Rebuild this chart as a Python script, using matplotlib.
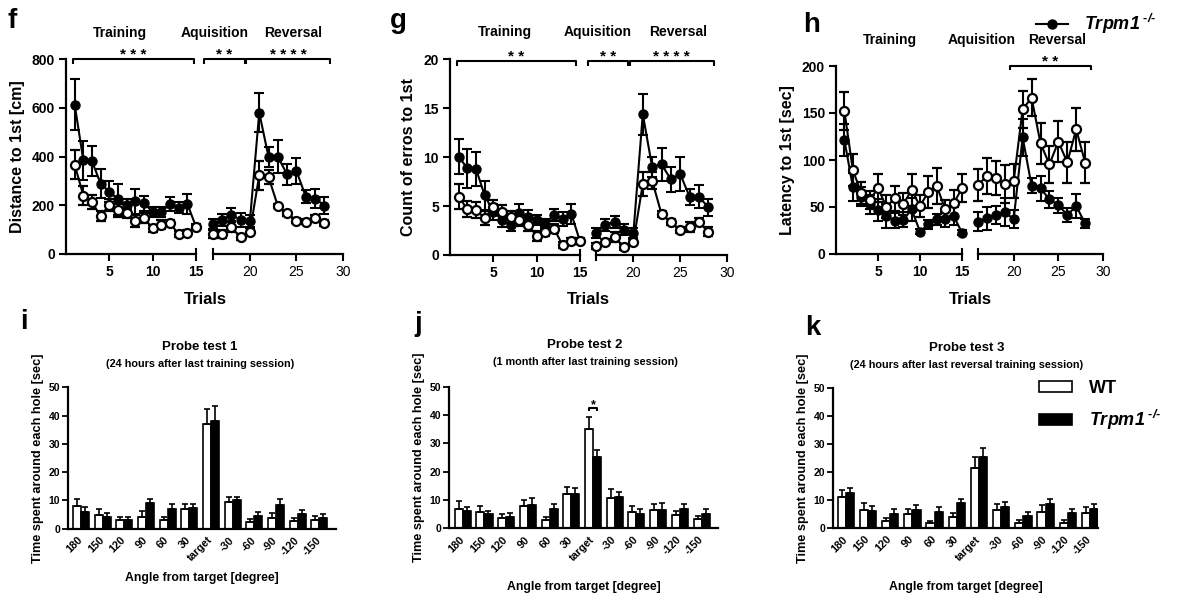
import numpy as np
import matplotlib
matplotlib.use("Agg")
import matplotlib.pyplot as plt

W, H = 1178, 597

TRIALS = list(range(1, 29))
SPLIT = 15  # trials 1-15 training, 16-20 acquisition, 21-28 reversal

# f: distance to 1st hole [cm]
DIST_WT = [367, 240, 213, 155, 203, 179, 169, 137, 148, 106, 121, 126, 82, 85, 110,
           82, 82, 110, 69, 92, 323, 316, 197, 168, 137, 133, 148, 128]
DIST_WT_ERR = [59, 40, 30, 20, 25, 25, 20, 25, 20, 15, 18, 15, 12, 12, 10,
               15, 15, 20, 12, 15, 60, 30, 10, 10, 10, 10, 12, 12]
DIST_KO = [614, 385, 381, 289, 256, 225, 203, 217, 209, 172, 172, 206, 190, 206, 112,
           124, 140, 162, 140, 137, 581, 399, 399, 327, 341, 236, 228, 199]
DIST_KO_ERR = [105, 80, 62, 60, 44, 64, 24, 51, 31, 20, 20, 30, 23, 41, 10,
               20, 25, 27, 30, 25, 80, 40, 68, 44, 53, 28, 38, 35]

# g: count of errors to 1st
ERR_WT = [5.96, 4.67, 4.6, 3.75, 4.94, 4.36, 3.85, 3.6, 3.07, 1.98, 2.4, 2.7, 1.0, 1.43, 1.46,
          0.92, 1.36, 1.8, 0.85, 1.36, 7.26, 7.6, 4.19, 3.34, 2.56, 2.9, 3.34, 2.4]
ERR_WT_ERR = [1.3, 0.8, 0.8, 0.7, 0.7, 0.8, 0.6, 0.6, 0.6, 0.5, 0.5, 0.5, 0.3, 0.3, 0.3,
              0.3, 0.3, 0.5, 0.3, 0.3, 1.2, 0.9, 0.3, 0.3, 0.3, 0.5, 0.4, 0.5]
ERR_KO = [10.05, 8.86, 8.8, 6.1, 4.4, 3.6, 3.1, 4.3, 3.9, 3.6, 3.2, 4.1, 3.7, 4.2, 1.4,
          2.28, 3.07, 3.4, 2.6, 2.28, 14.4, 9.0, 9.27, 7.73, 8.28, 5.96, 5.96, 4.87]
ERR_KO_ERR = [1.8, 2.0, 1.7, 1.5, 0.8, 0.7, 0.6, 0.9, 0.7, 0.5, 0.5, 0.6, 0.7, 1.0, 0.3,
              0.5, 0.6, 0.6, 0.6, 0.5, 2.1, 1.0, 1.7, 1.3, 1.7, 0.8, 1.2, 0.9]

# h: latency to 1st [sec]
LAT_WT = [152, 89.4, 65, 57.4, 69.9, 50.4, 59.2, 53, 68, 51, 66.3, 72.3, 47.5, 53.9, 69.9,
          73.4, 83, 80.5, 74.5, 77.7, 153.9, 166.3, 117.7, 95.4, 119.5, 97.5, 132.6, 97.2]
LAT_WT_ERR = [20, 17, 12, 10, 15, 12, 13, 12, 17, 12, 17, 19, 10, 14, 15,
              17, 19, 18, 20, 18, 20, 20, 22, 20, 22, 22, 23, 22]
LAT_KO = [121.3, 71.6, 61, 53, 46.8, 40.4, 35.5, 36.2, 47.5, 23.8, 31.6, 36.9, 36.9, 40.4, 22.7,
          34.4, 37.9, 41.5, 44.3, 37.2, 124.1, 72.7, 69.9, 58.2, 52.1, 41.5, 51, 32.6]
LAT_KO_ERR = [17, 15, 10, 10, 12, 13, 8, 8, 12, 3, 5, 6, 8, 10, 3,
              10, 12, 10, 15, 10, 20, 8, 13, 9, 8, 7, 13, 5]

ANGLES = ["180", "150", "120", "90", "60", "30", "target", "-30", "-60", "-90", "-120", "-150"]

P1_WT = [8.1, 4.8, 3.1, 4.2, 3.2, 6.8, 37.0, 9.4, 2.5, 3.7, 2.8, 3.1]
P1_WT_ERR = [2.4, 2.0, 1.0, 2.2, 1.0, 1.9, 5.2, 1.9, 1.0, 2.0, 1.1, 1.4]
P1_KO = [5.9, 4.2, 3.2, 9.0, 6.8, 7.2, 38.0, 10.1, 4.5, 8.5, 5.1, 3.7]
P1_KO_ERR = [1.6, 1.2, 0.9, 1.5, 1.8, 1.5, 5.5, 1.2, 1.3, 1.9, 1.5, 1.4]

P2_WT = [6.9, 5.6, 3.5, 7.9, 2.9, 12.0, 34.9, 10.8, 5.6, 6.5, 4.7, 3.2]
P2_WT_ERR = [2.7, 2.4, 1.4, 2.1, 1.0, 2.5, 4.5, 3.2, 2.4, 2.1, 1.4, 1.2]
P2_KO = [6.0, 4.9, 4.1, 8.4, 6.9, 12.0, 25.1, 11.2, 5.2, 6.5, 6.8, 5.1]
P2_KO_ERR = [1.4, 1.3, 1.2, 2.3, 1.7, 2.1, 2.5, 1.7, 1.5, 2.4, 1.8, 1.6]

P3_WT = [11.2, 6.4, 2.4, 4.9, 1.7, 4.1, 21.6, 6.3, 1.9, 5.7, 1.7, 5.3]
P3_WT_ERR = [2.4, 2.4, 1.1, 1.8, 0.9, 1.4, 3.7, 2.3, 1.0, 2.4, 1.0, 2.3]
P3_KO = [12.4, 6.2, 5.1, 6.4, 5.8, 9.1, 25.3, 7.4, 4.3, 8.6, 5.3, 6.8]
P3_KO_ERR = [2.0, 1.7, 1.6, 1.7, 1.6, 1.4, 3.5, 1.8, 1.5, 1.8, 1.4, 1.7]

KO_LABEL = "$\\mathit{Trpm1}^{\\ \u2010/\u2010}$"

plt.rcParams["font.family"] = ["Liberation Sans", "DejaVu Sans"]
plt.rcParams["font.weight"] = "bold"
plt.rcParams["axes.labelweight"] = "bold"
plt.rcParams["axes.linewidth"] = 1.6
plt.rcParams["mathtext.fontset"] = "custom"
plt.rcParams["mathtext.it"] = "Liberation Sans:italic:bold"
plt.rcParams["mathtext.rm"] = "Liberation Sans:italic"
plt.rcParams["mathtext.bf"] = "Liberation Sans:bold"

fig = plt.figure(figsize=(W / 100, H / 100), dpi=100)


def add_axes_px(x0, x1, y0, y1):
    return fig.add_axes([x0 / W, 1 - y1 / H, (x1 - x0) / W, (y1 - y0) / H])


def fig_text(x, y, s, **kw):
    return fig.text(x / W, 1 - y / H, s, **kw)


def bracket(ax, xa, xb, y, drop, label, size=11):
    ax.plot([xa, xa, xb, xb], [y - drop, y, y, y - drop], color="black",
            lw=1.5, clip_on=False, solid_capstyle="butt")
    ax.text((xa + xb) / 2, y, label, ha="center", va="baseline", fontsize=size)


def trial_panel(box, ylim, yticks, ylabel, wt, wt_err, ko, ko_err):
    x0, x1, x2, x3, y0, y1 = box
    ax1 = add_axes_px(x0, x1, y0, y1)
    ax2 = add_axes_px(x2, x3, y0, y1)
    handles = None
    for ax, lo, hi in ((ax1, 0, SPLIT), (ax2, SPLIT, len(TRIALS))):
        t = TRIALS[lo:hi]
        ko_c = ax.errorbar(t, ko[lo:hi], yerr=ko_err[lo:hi], fmt="-o", color="black",
                           mfc="black", mec="black", ms=6.5, lw=1.5, elinewidth=1.5,
                           capsize=3.5, capthick=1.5, zorder=3)
        wt_c = ax.errorbar(t, wt[lo:hi], yerr=wt_err[lo:hi], fmt="-o", color="black",
                           mfc="white", mec="black", mew=1.6, ms=6.5, lw=1.5, elinewidth=1.5,
                           capsize=3.5, capthick=1.5, zorder=4)
        for c in (ko_c, wt_c):
            for a in c.get_children():
                a.set_clip_on(False)
        handles = (wt_c[0], ko_c[0])
        ax.set_ylim(*ylim)
        ax.spines[["top", "right"]].set_visible(False)
        ax.tick_params(width=1.5, length=5, labelsize=10, pad=3)
        ax.set_facecolor("none")
    ax1.set_xlim(0, 15)
    ax1.set_xticks([5, 10, 15])
    ax1.set_yticks(yticks)
    ax1.set_ylabel(ylabel, fontsize=11.5, labelpad=5)
    ax2.set_xlim(16, 30)
    ax2.set_xticks([20, 25, 30])
    for lab in ax2.get_xticklabels():
        lab.set_fontweight("normal")
    ax2.spines["left"].set_visible(False)
    ax2.tick_params(axis="y", left=False, labelleft=False)
    # axis break marks
    ax1.plot([15, 15], [0, 0.028], transform=ax1.get_xaxis_transform(),
             color="black", lw=1.5, clip_on=False)
    ax2.plot([16, 16], [-0.028, 0.028], transform=ax2.get_xaxis_transform(),
             color="black", lw=1.5, clip_on=False)
    return ax1, ax2, handles


def probe_panel(box, xlim, wt, wt_err, ko, ko_err):
    ax = add_axes_px(*box)
    x = np.arange(len(ANGLES))
    w = 0.37
    wt_bars = ax.bar(x - w / 2, wt, w, color="white", edgecolor="black", lw=1.2, zorder=2)
    ko_bars = ax.bar(x + w / 2, ko, w, color="black", edgecolor="black", lw=1.2, zorder=2)
    zeros = np.zeros(len(ANGLES))
    ax.errorbar(x - w / 2, wt, yerr=[zeros, wt_err], fmt="none", ecolor="black",
                elinewidth=1.2, capsize=2.5, capthick=1.2, zorder=3)
    ax.errorbar(x + w / 2, ko, yerr=[zeros, ko_err], fmt="none", ecolor="black",
                elinewidth=1.2, capsize=2.5, capthick=1.2, zorder=3)
    ax.set_xlim(*xlim)
    ax.set_ylim(0, 50)
    ax.set_yticks(range(0, 51, 10))
    ax.set_xticks(x)
    ax.set_xticklabels(ANGLES, rotation=45, ha="right", va="center",
                       rotation_mode="anchor", fontsize=7.8)
    ax.tick_params(axis="x", length=0, pad=7)
    ax.tick_params(axis="y", width=1.3, length=4, labelsize=7.5, pad=2)
    ax.spines[["top", "right"]].set_visible(False)
    ax.set_ylabel("Time spent around each hole [sec]", fontsize=9.2, labelpad=3)
    return ax, wt_bars, ko_bars


# ---- top row: trials ----
f1, f2, _ = trial_panel((66, 196, 212.7, 343, 59.3, 254), (0, 800), range(0, 801, 200),
                        "Distance to 1st [cm]", DIST_WT, DIST_WT_ERR, DIST_KO, DIST_KO_ERR)
bracket(f1, 0.8, 14.8, 800, 18, "* * *")
bracket(f2, 15.1, 19.45, 800, 18, "* *")
bracket(f2, 19.6, 28.6, 800, 18, "* * * *")

g1, g2, _ = trial_panel((450, 580, 596, 727, 59.3, 255), (0, 20), range(0, 21, 5),
                        "Count of erros to 1st", ERR_WT, ERR_WT_ERR, ERR_KO, ERR_KO_ERR)
bracket(g1, 0.77, 14.5, 19.8, 0.45, "* *")
bracket(g2, 15.15, 19.45, 19.8, 0.45, "* *")
bracket(g2, 19.6, 28.6, 19.8, 0.45, "* * * *")

h1, h2, line_handles = trial_panel((836, 962, 978, 1103, 66, 254), (0, 200), range(0, 201, 50),
                                   "Latency to 1st [sec]", LAT_WT, LAT_WT_ERR, LAT_KO, LAT_KO_ERR)
bracket(h2, 19.55, 28.6, 200, 4.5, "* *")

for cx, heads, hy in ((205, (120, 215, 293), 33), (588, (505, 598, 678), 32),
                      (970, (890, 982, 1057), 40)):
    for hx, s in zip(heads, ("Training", "Aquisition", "Reversal")):
        fig_text(hx, hy, s, ha="center", va="center", fontsize=10)
    fig_text(cx, 300, "Trials", ha="center", va="center", fontsize=12)

# WT entry sits partly above the top edge, as in the original figure
fig.legend(handles=list(line_handles), labels=["WT", KO_LABEL], loc="upper left",
           bbox_to_anchor=(1036 / W, 1 + 14 / H), frameon=False, fontsize=13,
           handlelength=1.75, handletextpad=0.9, labelspacing=0.5,
           borderpad=0, borderaxespad=0)

# ---- bottom row: probe tests ----
pi, _, _ = probe_panel((68.3, 336, 387.3, 528.7), (-0.58, 11.77), P1_WT, P1_WT_ERR, P1_KO, P1_KO_ERR)
pj, _, _ = probe_panel((449.3, 718.3, 386.7, 528.3), (-0.62, 11.77), P2_WT, P2_WT_ERR, P2_KO, P2_KO_ERR)
pk, wt_bars, ko_bars = probe_panel((833.3, 1098.3, 388.3, 528), (-0.56, 11.37),
                                   P3_WT, P3_WT_ERR, P3_KO, P3_KO_ERR)
bracket(pj, 6 - 0.185, 6 + 0.185, 42.5, 1.2, "*", size=9)

for ax, xl_y in ((pi, 578), (pj, 587), (pk, 587)):
    bb = ax.get_position()
    fig.text((bb.x0 + bb.x1) / 2, 1 - xl_y / H, "Angle from target [degree]",
             ha="center", va="center", fontsize=8.8)

for cx, t, s, ty in ((200, "Probe test 1", "(24 hours after last training session)", 347),
                     (585, "Probe test 2", "(1 month after last training session)", 345),
                     (967, "Probe test 3", "(24 hours after last reversal training session)", 348)):
    fig_text(cx, ty, t, ha="center", va="center", fontsize=9.5)
    fig_text(cx, ty + 17, s, ha="center", va="center", fontsize=7.8)

pk.legend([wt_bars, ko_bars], ["WT", KO_LABEL], loc="upper left",
          bbox_to_anchor=(1039 / W, 1 - 380 / H), bbox_transform=fig.transFigure,
          frameon=False, fontsize=13, handlelength=1.85, handleheight=0.6,
          handletextpad=0.9, labelspacing=0.6, borderpad=0, borderaxespad=0)

# panel letters
for x, y, s in ((8, 8, "f"), (390, 8, "g"), (803, 12, "h"),
                (20, 309, "i"), (414, 311, "j"), (805, 315, "k")):
    fig_text(x, y, s, ha="left", va="top", fontsize=20)

fig.savefig("out.png", dpi=100)
